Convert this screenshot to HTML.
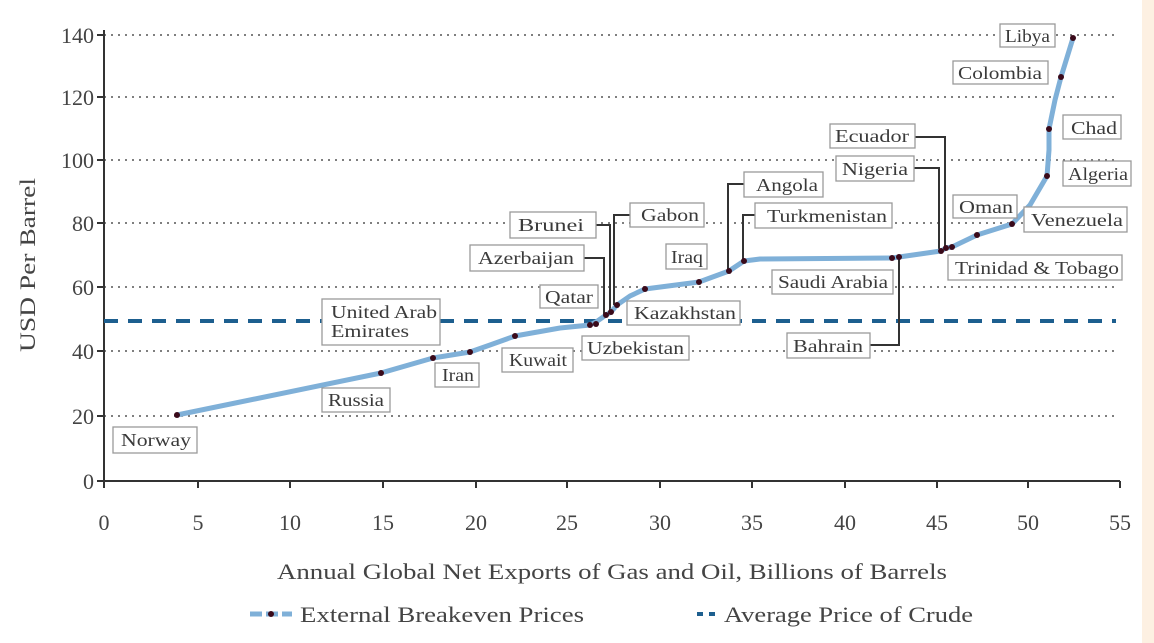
<!DOCTYPE html>
<html><head><meta charset="utf-8"><style>
body{margin:0;background:#fff;}
svg{display:block;font-family:"Liberation Serif",serif;}
.b{fill:#fff;stroke:#9a9a9a;stroke-width:1.3}
.t{font-size:18px;fill:#3a3a3a}
.k{font-size:22px;fill:#444}
.g{stroke:#555;stroke-width:1.6;stroke-dasharray:2 5}
.l{stroke:#333;stroke-width:2;fill:none}
</style></head><body>
<svg width="1154" height="643" viewBox="0 0 1154 643">
<rect x="1142" y="0" width="12" height="643" fill="#fdf0e2"/>
<g class="g">
<line x1="104" y1="35" x2="1116" y2="35"/><line x1="104" y1="97" x2="1116" y2="97"/>
<line x1="104" y1="160" x2="1116" y2="160"/><line x1="104" y1="223" x2="1116" y2="223"/>
<line x1="104" y1="287" x2="1116" y2="287"/><line x1="104" y1="351" x2="1116" y2="351"/>
<line x1="104" y1="416" x2="1116" y2="416"/>
</g>
<g stroke="#333" stroke-width="2">
<line x1="104" y1="30" x2="104" y2="488"/><line x1="97" y1="481" x2="1120" y2="481"/>
<line x1="97" y1="35" x2="104" y2="35"/><line x1="97" y1="97" x2="104" y2="97"/><line x1="97" y1="160" x2="104" y2="160"/><line x1="97" y1="223" x2="104" y2="223"/><line x1="97" y1="287" x2="104" y2="287"/><line x1="97" y1="351" x2="104" y2="351"/><line x1="97" y1="416" x2="104" y2="416"/>
<line x1="198" y1="481" x2="198" y2="488"/><line x1="290" y1="481" x2="290" y2="488"/><line x1="383" y1="481" x2="383" y2="488"/><line x1="476" y1="481" x2="476" y2="488"/><line x1="567" y1="481" x2="567" y2="488"/><line x1="660" y1="481" x2="660" y2="488"/><line x1="752" y1="481" x2="752" y2="488"/><line x1="845" y1="481" x2="845" y2="488"/><line x1="937" y1="481" x2="937" y2="488"/><line x1="1028" y1="481" x2="1028" y2="488"/><line x1="1120" y1="481" x2="1120" y2="488"/>
</g>
<g class="k" text-anchor="end">
<text x="94" y="43">140</text><text x="94" y="105">120</text><text x="94" y="168">100</text><text x="94" y="231">80</text><text x="94" y="295">60</text><text x="94" y="359">40</text><text x="94" y="424">20</text><text x="94" y="489">0</text>
</g>
<g class="k" text-anchor="middle">
<text x="104" y="530">0</text><text x="198" y="530">5</text><text x="290" y="530">10</text><text x="383" y="530">15</text><text x="476" y="530">20</text><text x="567" y="530">25</text><text x="660" y="530">30</text><text x="752" y="530">35</text><text x="845" y="530">40</text><text x="937" y="530">45</text><text x="1028" y="530">50</text><text x="1120" y="530">55</text>
</g>
<text class="k" x="277" y="579" textLength="670" lengthAdjust="spacingAndGlyphs">Annual Global Net Exports of Gas and Oil, Billions of Barrels</text>
<text class="k" transform="translate(35,352) rotate(-90)" textLength="174" lengthAdjust="spacingAndGlyphs">USD Per Barrel</text>
<line x1="104" y1="321" x2="1116" y2="321" stroke="#1d5f8f" stroke-width="4" stroke-dasharray="14 10"/>
<g class="l">
<polyline points="915,137 945,137 945,248"/>
<polyline points="914,168 939,168 939,251"/>
<polyline points="870,345 899,345 899,257"/>
<polyline points="744,184 728,184 728,270"/>
<polyline points="755,215 743,215 743,259"/>
<polyline points="630,215 614,215 614,305"/>
<polyline points="596,225 610,225 610,312"/>
<polyline points="584,258 604,258 604,315"/>
</g>
<polyline fill="none" stroke="#7fb0d8" stroke-width="5" stroke-linejoin="round" stroke-linecap="round" points="177,415 381,373 433,358 470,352 490,345 515,336 560,328 590,325 596,322 606,315 611,312 617,305 630,296 645,289 699,282 729,271 744,261 760,259 892,258 899,257 941,251 946,248 952,247 977,235 1012,224 1030,205 1047,176 1049,150 1049,129 1055,100 1061,77 1073,38"/>
<g fill="#3a0a1a">
<circle cx="177" cy="415" r="3"/><circle cx="381" cy="373" r="3"/><circle cx="433" cy="358" r="3"/><circle cx="470" cy="352" r="3"/><circle cx="515" cy="336" r="3"/><circle cx="590" cy="325" r="3"/><circle cx="596" cy="324" r="3"/><circle cx="606" cy="315" r="3"/><circle cx="611" cy="312" r="3"/><circle cx="617" cy="305" r="3"/><circle cx="645" cy="289" r="3"/><circle cx="699" cy="282" r="3"/><circle cx="729" cy="271" r="3"/><circle cx="744" cy="261" r="3"/><circle cx="892" cy="258" r="3"/><circle cx="899" cy="257" r="3"/><circle cx="941" cy="251" r="3"/><circle cx="946" cy="248" r="3"/><circle cx="952" cy="247" r="3"/><circle cx="977" cy="235" r="3"/><circle cx="1012" cy="224" r="3"/><circle cx="1047" cy="176" r="3"/><circle cx="1049" cy="129" r="3"/><circle cx="1061" cy="77" r="3"/><circle cx="1073" cy="38" r="3"/>
</g>
<g lengthAdjust="spacingAndGlyphs">
<rect class="b" x="1000" y="24" width="55" height="23"/><text class="t" x="1005" y="42" textLength="45" lengthAdjust="spacingAndGlyphs">Libya</text>
<rect class="b" x="953" y="61" width="95" height="23"/><text class="t" x="958" y="79" textLength="84" lengthAdjust="spacingAndGlyphs">Colombia</text>
<rect class="b" x="1063" y="115" width="58" height="24"/><text class="t" x="1071" y="134" textLength="46" lengthAdjust="spacingAndGlyphs">Chad</text>
<rect class="b" x="1063" y="161" width="68" height="25"/><text class="t" x="1068" y="180" textLength="60" lengthAdjust="spacingAndGlyphs">Algeria</text>
<rect class="b" x="1024" y="207" width="103" height="25"/><text class="t" x="1031" y="226" textLength="92" lengthAdjust="spacingAndGlyphs">Venezuela</text>
<rect class="b" x="953" y="195" width="64" height="23"/><text class="t" x="959" y="213" textLength="54" lengthAdjust="spacingAndGlyphs">Oman</text>
<rect class="b" x="948" y="255" width="174" height="25"/><text class="t" x="955" y="274" textLength="164" lengthAdjust="spacingAndGlyphs">Trinidad &amp; Tobago</text>
<rect class="b" x="830" y="124" width="85" height="24"/><text class="t" x="835" y="142" textLength="74" lengthAdjust="spacingAndGlyphs">Ecuador</text>
<rect class="b" x="836" y="156" width="78" height="25"/><text class="t" x="842" y="175" textLength="66" lengthAdjust="spacingAndGlyphs">Nigeria</text>
<rect class="b" x="772" y="270" width="121" height="24"/><text class="t" x="778" y="288" textLength="110" lengthAdjust="spacingAndGlyphs">Saudi Arabia</text>
<rect class="b" x="787" y="333" width="83" height="25"/><text class="t" x="793" y="352" textLength="70" lengthAdjust="spacingAndGlyphs">Bahrain</text>
<rect class="b" x="744" y="172" width="79" height="25"/><text class="t" x="756" y="191" textLength="62" lengthAdjust="spacingAndGlyphs">Angola</text>
<rect class="b" x="755" y="203" width="137" height="25"/><text class="t" x="767" y="222" textLength="120" lengthAdjust="spacingAndGlyphs">Turkmenistan</text>
<rect class="b" x="666" y="244" width="41" height="25"/><text class="t" x="671" y="263" textLength="32" lengthAdjust="spacingAndGlyphs">Iraq</text>
<rect class="b" x="627" y="301" width="113" height="24"/><text class="t" x="634" y="319" textLength="102" lengthAdjust="spacingAndGlyphs">Kazakhstan</text>
<rect class="b" x="630" y="203" width="74" height="24"/><text class="t" x="641" y="221" textLength="58" lengthAdjust="spacingAndGlyphs">Gabon</text>
<rect class="b" x="510" y="212" width="86" height="26"/><text class="t" x="518" y="231" textLength="66" lengthAdjust="spacingAndGlyphs">Brunei</text>
<rect class="b" x="470" y="245" width="114" height="26"/><text class="t" x="478" y="264" textLength="96" lengthAdjust="spacingAndGlyphs">Azerbaijan</text>
<rect class="b" x="540" y="285" width="58" height="23"/><text class="t" x="545" y="303" textLength="48" lengthAdjust="spacingAndGlyphs">Qatar</text>
<rect class="b" x="582" y="336" width="107" height="24"/><text class="t" x="587" y="354" textLength="97" lengthAdjust="spacingAndGlyphs">Uzbekistan</text>
<rect class="b" x="502" y="348" width="71" height="24"/><text class="t" x="509" y="366" textLength="58" lengthAdjust="spacingAndGlyphs">Kuwait</text>
<rect class="b" x="435" y="363" width="44" height="24"/><text class="t" x="442" y="381" textLength="32" lengthAdjust="spacingAndGlyphs">Iran</text>
<rect class="b" x="322" y="299" width="118" height="46"/><text class="t" x="331" y="318" textLength="106" lengthAdjust="spacingAndGlyphs">United Arab</text><text class="t" x="331" y="337" textLength="78" lengthAdjust="spacingAndGlyphs">Emirates</text>
<rect class="b" x="322" y="388" width="68" height="24"/><text class="t" x="328" y="406" textLength="56" lengthAdjust="spacingAndGlyphs">Russia</text>
<rect class="b" x="113" y="427" width="84" height="26"/><text class="t" x="121" y="446" textLength="70" lengthAdjust="spacingAndGlyphs">Norway</text>
</g>
<line x1="250" y1="614" x2="292" y2="614" stroke="#7fb0d8" stroke-width="5" stroke-dasharray="12 4"/>
<circle cx="271" cy="614" r="3" fill="#3a0a1a"/>
<text class="k" x="300" y="622" textLength="284" lengthAdjust="spacingAndGlyphs">External Breakeven Prices</text>
<line x1="697" y1="614" x2="716" y2="614" stroke="#1d5f8f" stroke-width="4" stroke-dasharray="6 6"/>
<text class="k" x="724" y="622" textLength="249" lengthAdjust="spacingAndGlyphs">Average Price of Crude</text>
</svg>
</body></html>
